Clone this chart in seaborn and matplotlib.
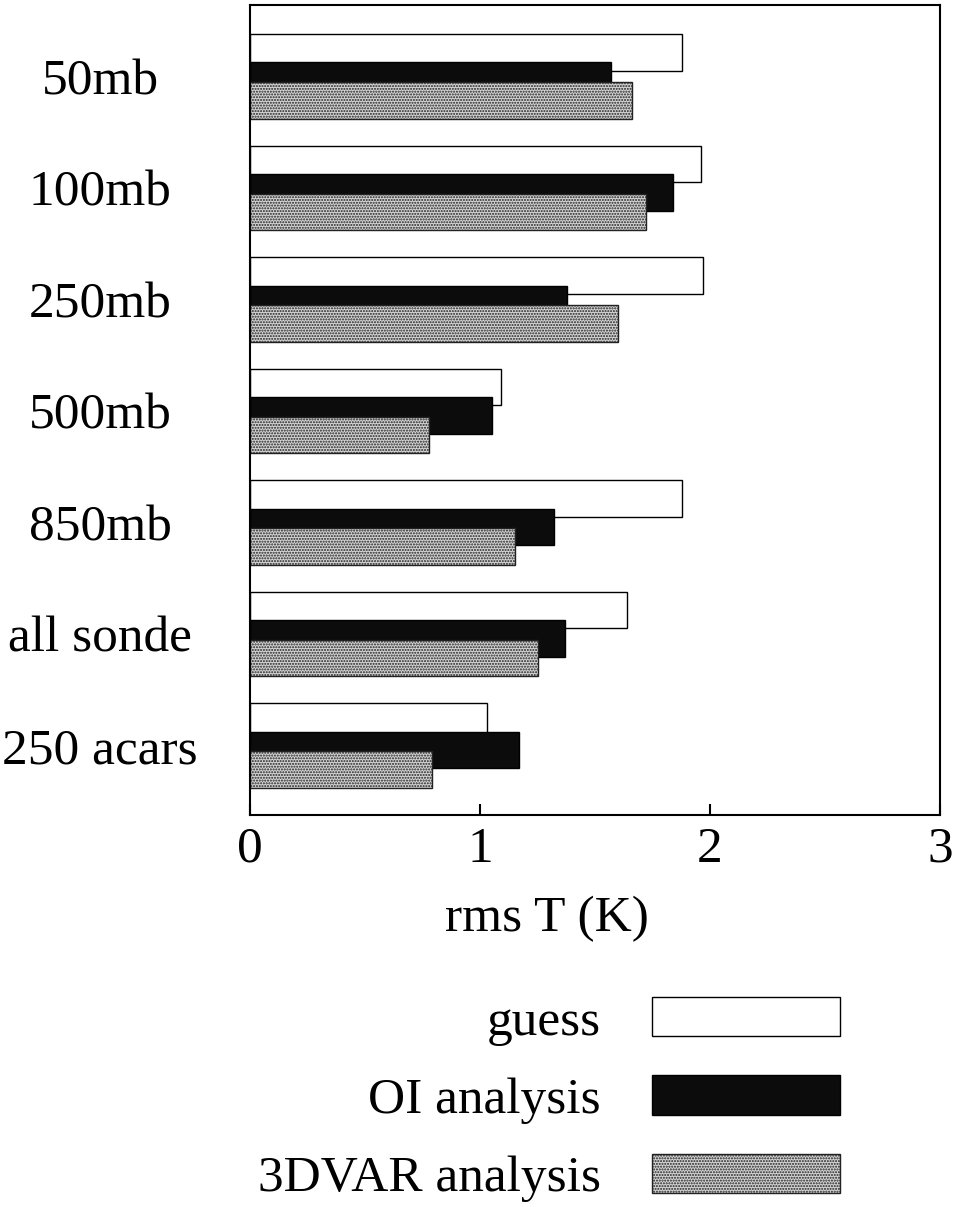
import numpy as np
import pandas as pd
import matplotlib
matplotlib.use("Agg")
import matplotlib.pyplot as plt
import seaborn as sns

# data
levels = ["50mb", "100mb", "250mb", "500mb", "850mb", "all sonde", "250 acars"]
guess = [1.88, 1.96, 1.97, 1.09, 1.88, 1.64, 1.03]
oi_analysis = [1.57, 1.84, 1.38, 1.05, 1.32, 1.37, 1.17]
var3d_analysis = [1.66, 1.72, 1.60, 0.78, 1.15, 1.25, 0.79]
series_names = ["guess", "OI analysis", "3DVAR analysis"]

sns.set_theme(style="ticks")
plt.rcParams["font.family"] = ["Liberation Serif", "DejaVu Serif"]
plt.rcParams["hatch.linewidth"] = 1.0
for key in ["text.color", "axes.labelcolor", "xtick.color", "ytick.color",
            "xtick.labelcolor", "ytick.labelcolor"]:
    plt.rcParams[key] = "black"

fig = plt.figure(figsize=(9.55, 12.07), dpi=100)
ax = fig.add_axes([0.2618, 0.3248, 0.7225, 0.6711])

rows = np.arange(len(levels))
# the bars inside a group overlap a bit (like the original)
offsets = [-0.215, 0.04, 0.215]
styles = [
    dict(color="white", edgecolor="black", linewidth=1.0),
    dict(color="#0c0c0c", edgecolor="black", linewidth=1.0),
    dict(color="#d4d4d4", edgecolor="#222222", linewidth=1.0, hatch="......"),
]
values = [guess, oi_analysis, var3d_analysis]

for name, vals, off, st in zip(series_names, values, offsets, styles):
    df = pd.DataFrame({"rms": vals, "pos": rows + off})
    sns.barplot(data=df, x="rms", y="pos", orient="h", native_scale=True,
                width=0.33, label=name, ax=ax, **st)

ax.set_xlim(0, 3)
ax.set_ylim(6.623, -0.641)
ax.set_xticks([0, 1, 2, 3])
ax.set_xticklabels(["0", "1", "2", "3"])
ax.set_yticks(rows)
ax.set_yticklabels(levels, ha="center")
ax.tick_params(axis="y", length=0, pad=108, labelsize=37)
ax.tick_params(axis="x", direction="in", length=8, width=1.5, pad=8,
               labelsize=37, top=False)
for sp in ax.spines.values():
    sp.set_visible(True)
    sp.set_color("black")
    sp.set_linewidth(1.5)

ax.set_ylabel("")
ax.set_xlabel("rms T (K)", fontsize=37)
ax.xaxis.set_label_coords(0.43, -0.1)
if ax.get_legend() is not None:
    ax.get_legend().remove()

handles, labels = ax.get_legend_handles_labels()
fig.legend(handles, labels, loc="upper right",
           bbox_to_anchor=(840 / 955, 1 - 997 / 1207),
           frameon=False, markerfirst=False, fontsize=37,
           handlelength=3.65, handleheight=0.8, handletextpad=1.0,
           labelspacing=0.58, borderpad=0, borderaxespad=0)

fig.savefig("out.png", dpi=100, facecolor="white")
